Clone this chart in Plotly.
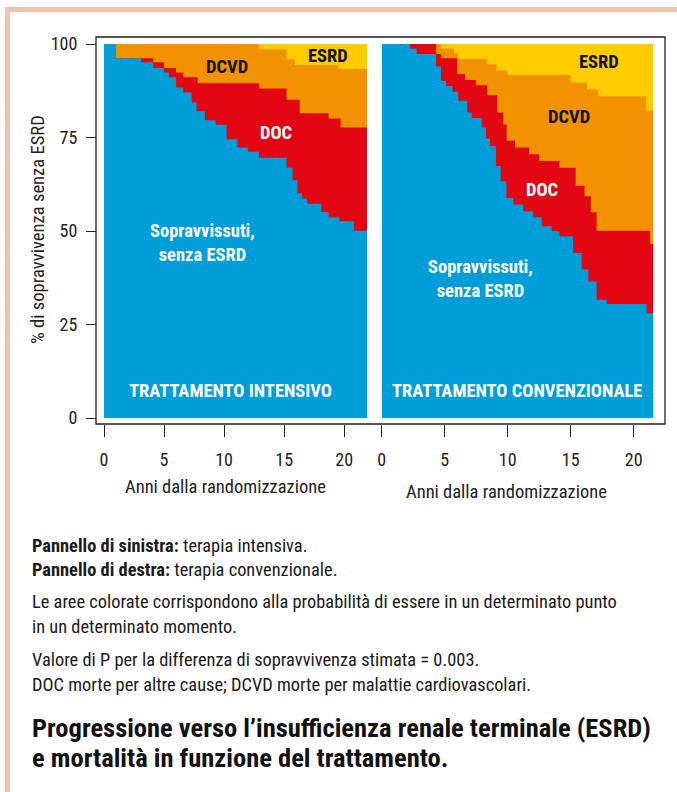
import plotly.graph_objects as go

# colours of the four states
c_blue = '#009ed9'
c_red = '#e30613'
c_orange = '#f29200'
c_yellow = '#ffcc00'

# ---- left panel: intensive treatment (step start in years, upper edge in %)
int_end = 21.9
int_surv_x = [0, 1.0, 3.1, 4.1, 5.0, 5.4, 6.0, 6.6, 7.3, 7.7, 8.4, 9.3, 10.2, 11.1, 12.0,
              12.9, 15.2, 15.7, 16.1, 16.5, 16.9, 18.1, 18.7, 19.6, 20.8, 21.9]
int_surv_y = [100, 96.2, 95.1, 93.6, 92.4, 91.1, 88.4, 87.0, 84.4, 82.0, 79.6, 78.4, 74.5, 72.3, 71.2,
              69.6, 66.9, 63.6, 60.1, 58.7, 57.3, 55.1, 53.7, 52.6, 50.1, 50.1]
int_doc_x = [1.0, 3.1, 4.1, 5.0, 6.0, 6.6, 7.8, 12.9, 15.2, 16.3, 18.7, 19.7, 21.9]
int_doc_y = [96.2, 96.2, 95.1, 93.6, 92.4, 91.1, 89.5, 88.1, 85.1, 81.5, 80.1, 77.7, 77.7]
int_dcvd_x = [0, 12.9, 15.2, 15.9, 19.5, 21.9]
int_dcvd_y = [100, 98.6, 95.9, 94.4, 93.3, 93.3]

# ---- right panel: conventional treatment
conv_end = 21.56
conv_surv_x = [0, 2.25, 2.78, 4.31, 4.71, 5.10, 5.63, 6.08, 6.79, 7.14, 7.94, 8.28, 8.6, 9.07, 9.44,
               9.9, 10.45, 11.24, 12.03, 12.7, 13.49, 14.1, 15.2, 15.87, 16.4, 17.06, 17.86, 21.03, 21.56]
conv_surv_y = [100, 98.7, 97.3, 94.0, 90.2, 88.8, 87.2, 84.8, 81.7, 80.2, 77.7, 74.7, 72.7, 67.4, 63.3,
               58.8, 57.1, 55.3, 53.7, 51.3, 49.9, 48.6, 44.1, 39.8, 36.5, 31.6, 30.5, 28.0, 28.0]
conv_doc_x = [2.25, 4.31, 4.71, 6.0, 6.61, 7.48, 8.38, 9.17, 9.65, 9.92, 10.58, 11.71, 12.5, 14.1,
              15.4, 16.1, 16.6, 17.06, 21.3, 21.56]
conv_doc_y = [100, 97.3, 96.2, 92.0, 90.4, 89.0, 86.3, 81.7, 78.5, 74.1, 72.3, 70.5, 68.7, 66.9,
              62.1, 59.3, 55.0, 50.1, 46.6, 46.6]
conv_dcvd_x = [2.25, 4.71, 5.74, 6.08, 8.38, 9.12, 10.0, 15.0, 16.3, 17.2, 21.0, 21.56]
conv_dcvd_y = [100, 98.8, 97.6, 96.0, 94.6, 92.9, 91.7, 89.7, 87.9, 86.0, 82.2, 82.2]

x_ticks = [0, 5, 10, 15, 20]
y_ticks = [0, 25, 50, 75, 100]

W, H = 677, 792
FONT = 'Liberation Sans Narrow, Roboto Condensed, Liberation Sans, sans-serif'


def px(x):
    return x / W


def py(y):
    return 1 - y / H


fig = go.Figure()


def add_panel(fig, end, dcvd_x, dcvd_y, doc_x, doc_y, surv_x, surv_y, xa, ya):
    layers = [([0, end], [100, 100], c_yellow),
              (dcvd_x, dcvd_y, c_orange),
              (doc_x, doc_y, c_red),
              (surv_x, surv_y, c_blue)]
    for xs, ys, col in layers:
        fig.add_trace(go.Scatter(x=xs, y=ys, mode='lines', line=dict(width=0, shape='hv'),
                                 fill='tozeroy', fillcolor=col, xaxis=xa, yaxis=ya,
                                 hoverinfo='skip', showlegend=False))


add_panel(fig, int_end, int_dcvd_x, int_dcvd_y, int_doc_x, int_doc_y, int_surv_x, int_surv_y, 'x', 'y')
add_panel(fig, conv_end, conv_dcvd_x, conv_dcvd_y, conv_doc_x, conv_doc_y, conv_surv_x, conv_surv_y, 'x2', 'y2')

tickfont = dict(family=FONT, size=18, color='#222')
xcommon = dict(tickmode='array', tickvals=x_ticks, ticks='outside', ticklen=12, tickwidth=1.3,
               tickcolor='#222', showgrid=False, zeroline=False, showline=False, automargin=False,
               tickfont=tickfont, anchor='free', position=py(424), ticklabelstandoff=7)

fig.update_layout(
    width=W, height=H,
    margin=dict(l=0, r=0, t=0, b=0),
    paper_bgcolor='white', plot_bgcolor='rgba(0,0,0,0)',
    xaxis=dict(domain=[px(104), px(367)], range=[0, int_end], **xcommon),
    xaxis2=dict(domain=[px(381.7), px(653.3)], range=[0, conv_end], **xcommon),
    yaxis=dict(domain=[py(418), py(44)], range=[0, 100], tickvals=y_ticks, ticks='outside',
               ticklen=10, tickwidth=1.3, tickcolor='#222', showgrid=False, zeroline=False,
               showline=False, automargin=False, tickfont=tickfont, anchor='free',
               position=px(96), ticklabelstandoff=5),
    yaxis2=dict(domain=[py(418), py(44)], range=[0, 100], visible=False, anchor='x2',
                automargin=False),
    showlegend=False,
)

# frame around both panels and the page border
fig.add_shape(type='rect', xref='paper', yref='paper', x0=px(96), x1=px(665), y0=py(424), y1=py(37),
              line=dict(color='#222', width=1.3))
fig.add_shape(type='rect', xref='paper', yref='paper', x0=px(5), x1=px(10), y0=py(792), y1=py(7),
              fillcolor='#eec3b3', line=dict(width=0))
fig.add_shape(type='rect', xref='paper', yref='paper', x0=px(5), x1=px(677), y0=py(12), y1=py(7),
              fillcolor='#eec3b3', line=dict(width=0))


def label(text, x, y, size=18.5, color='white', bold=True, xanchor='center', angle=0):
    t = '<b>%s</b>' % text if bold else text
    fig.add_annotation(text=t, x=px(x), y=py(y), xref='paper', yref='paper', showarrow=False,
                       xanchor=xanchor, yanchor='middle', textangle=angle,
                       align='center' if xanchor == 'center' else 'left',
                       font=dict(family=FONT, size=size, color=color))


# labels inside the panels
label('DCVD', 227, 67, color='#111')
label('ESRD', 328, 56, color='#111')
label('DOC', 276, 133)
label('Sopravvissuti,<br>senza ESRD', 202, 243)
label('TRATTAMENTO INTENSIVO', 230, 391)
label('ESRD', 599, 62, color='#111')
label('DCVD', 569, 117, color='#111')
label('DOC', 542, 190)
label('Sopravvissuti,<br>senza ESRD', 481, 279)
label('TRATTAMENTO CONVENZIONALE', 517, 391)

# axis titles
label('% di sopravvivenza senza ESRD', 38, 230, size=18.6, color='#222', bold=False, angle=-90)
label('Anni dalla randomizzazione', 226, 487, size=18.5, color='#222', bold=False)
label('Anni dalla randomizzazione', 506, 492, size=18.5, color='#222', bold=False)

# caption
notes = [
    ('<b>Pannello di sinistra:</b> terapia intensiva.', 545),
    ('<b>Pannello di destra:</b> terapia convenzionale.', 569),
    ('Le aree colorate corrispondono alla probabilità di essere in un determinato punto', 601),
    ('in un determinato momento.', 626),
    ('Valore di P per la differenza di sopravvivenza stimata = 0.003.', 659),
    ('DOC morte per altre cause; DCVD morte per malattie cardiovascolari.', 684),
]
for txt, yy in notes:
    label(txt, 30, yy, size=18.4, color='#1a1a1a', bold=False, xanchor='left')

label('Progressione verso l’insufficienza renale terminale (ESRD)', 30, 727, size=26.5, color='#111',
      xanchor='left')
label('e mortalità in funzione del trattamento.', 30, 757, size=26.5, color='#111', xanchor='left')

# drop the default body margin so the 677x792 figure fills the window exactly
fig.write_html('out.html', config={'displayModeBar': False},
               post_script="document.body.style.margin='0';document.body.style.overflow='hidden';")
